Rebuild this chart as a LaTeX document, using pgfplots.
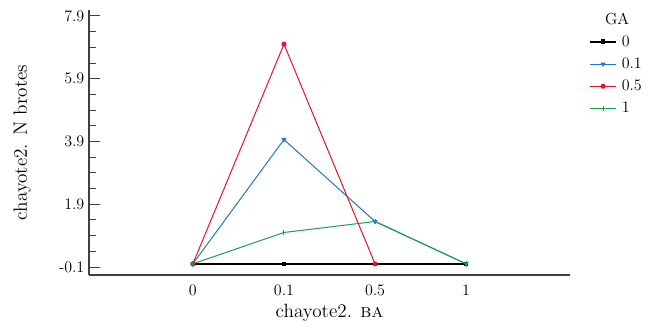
\documentclass[border=0pt]{standalone}
\usepackage{pgfplots}
\pgfplotsset{compat=1.18}
\definecolor{cblue}{HTML}{1F78C8}
\definecolor{cred}{HTML}{E8112D}
\definecolor{cgreen}{HTML}{17A050}
\begin{document}
\begin{tikzpicture}
\useasboundingbox (0,0) rectangle (494.25pt,244.5pt);
\begin{axis}[
  at={(66.75pt,38.25pt)}, anchor=south west,
  scale only axis, width=360.75pt, height=198.75pt,
  axis lines=left, axis line style={-, draw=black!75, line width=1pt},
  xmin=-1.14, xmax=4.14, ymin=-0.355, ymax=8.09,
  xtick={0,1,2,3}, xticklabels={0,0.1,0.5,1},
  major x tick style={draw=none},
  ytick={-0.1,1.9,3.9,5.9,7.9},
  yticklabels={-0.1,1.9,3.9,5.9,7.9},
  minor y tick num=3,
  tick align=inside,
  major tick length=8.5pt, minor tick length=5pt,
  every tick/.style={black!75, line width=0.7pt},
  tick label style={font=\large},
  xticklabel style={yshift=-4pt},
  ylabel={chayote2. N brotes}, xlabel={chayote2. \textsc{ba}},
  label style={font=\Large},
  ylabel style={at={(axis description cs:-0.139,0.5)}, anchor=center, rotate=0},
  xlabel style={at={(axis description cs:0.5,-0.143)}, anchor=center},
  legend style={at={(axis description cs:1.032,0.925)}, anchor=north west, draw=none, fill=none,
    row sep=3.2pt, font=\large, nodes={inner sep=2pt}},
  legend cell align=left,
  legend image code/.code={\draw[#1] (0pt,0pt) -- (19pt,0pt); \draw[#1, only marks] plot coordinates {(9.5pt,0pt)};},
  clip=false,
]
\addplot[black, line width=1.1pt, mark=square*, mark size=1.2pt] coordinates {(0,0) (1,0) (2,0) (3,0)};
\addlegendentry{\,0}
\addplot[cblue, line width=0.75pt, mark=triangle*, mark options={rotate=180}, mark size=1.5pt] coordinates {(0,0) (1,3.96) (2,1.35) (3,0)};
\addlegendentry{\,0.1}
\addplot[cred, line width=0.75pt, mark=*, mark size=1.5pt] coordinates {(0,0) (1,7.0) (2,0)};
\addlegendentry{\,0.5}
\addplot[cgreen, line width=0.75pt, mark=|, mark size=2pt] coordinates {(0,0) (1,1.0) (2,1.35) (3,0)};
\addlegendentry{\,1}
\node[font=\large, anchor=center] at (axis description cs:1.098,0.965) {GA};
\end{axis}
\end{tikzpicture}
\end{document}
